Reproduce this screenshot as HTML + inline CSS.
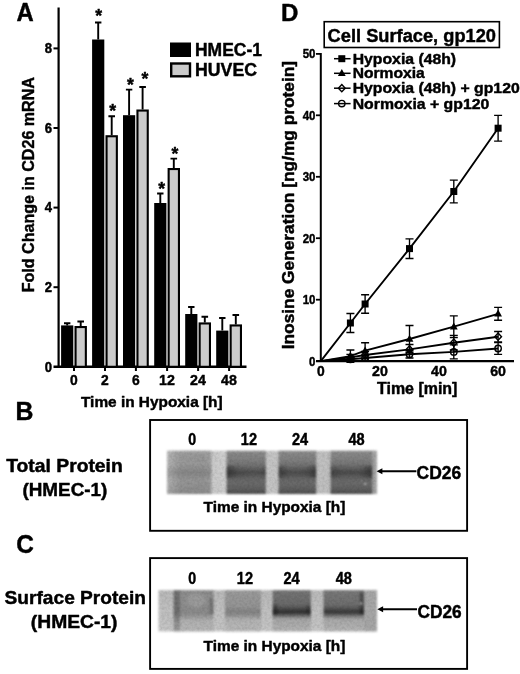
<!DOCTYPE html>
<html><head><meta charset="utf-8"><title>Figure</title>
<style>
html,body{margin:0;padding:0;background:#fff;}
body{width:520px;height:674px;overflow:hidden;font-family:"Liberation Sans",sans-serif;}
svg{display:block;}
svg text{font-family:"Liberation Sans",sans-serif;font-weight:bold;fill:#000;stroke:#000;stroke-width:0.45px;stroke-linejoin:round;}
</style></head>
<body>
<svg width="520" height="674" viewBox="0 0 520 674">
<rect width="520" height="674" fill="#fff"/>

<defs>
<filter id="soft" x="0" y="0" width="100%" height="100%" filterUnits="userSpaceOnUse"><feGaussianBlur stdDeviation="0.35"/></filter>
<filter id="grain" x="150" y="440" width="240" height="200" filterUnits="userSpaceOnUse" color-interpolation-filters="sRGB">
  <feGaussianBlur in="SourceGraphic" stdDeviation="1.0" result="b"/>
  <feTurbulence type="fractalNoise" baseFrequency="0.4" numOctaves="2" seed="7" result="n"/>
  <feColorMatrix in="n" type="matrix" values="0 0 0 0 0  0 0 0 0 0  0 0 0 0 0  0.18 0 0 0 -0.065" result="na"/>
  <feComposite in="na" in2="b" operator="in" result="nn"/>
  <feMerge><feMergeNode in="b"/><feMergeNode in="nn"/></feMerge>
</filter>
<linearGradient id="b_bg" x1="0" x2="1" y1="0" y2="0">
  <stop offset="0" stop-color="#bcbcbc"/><stop offset="0.21" stop-color="#cacaca"/><stop offset="0.28" stop-color="#cecece"/>
  <stop offset="0.5" stop-color="#c4c4c4"/><stop offset="0.75" stop-color="#c0c0c0"/><stop offset="1" stop-color="#b4b4b4"/>
</linearGradient>
<linearGradient id="b_l1" x1="0" x2="1" y1="0" y2="0">
  <stop offset="0" stop-color="#b8b8b8"/><stop offset="0.16" stop-color="#a6a6a6"/><stop offset="0.3" stop-color="#9a9a9a"/><stop offset="0.8" stop-color="#989898"/><stop offset="1" stop-color="#a0a0a0"/>
</linearGradient>
<linearGradient id="b_band_light" x1="0" x2="0" y1="0" y2="1">
  <stop offset="0" stop-color="#fff" stop-opacity="0.06"/><stop offset="0.3" stop-color="#000" stop-opacity="0"/>
  <stop offset="0.5" stop-color="#000" stop-opacity="0.13"/><stop offset="0.68" stop-color="#000" stop-opacity="0.02"/>
  <stop offset="1" stop-color="#000" stop-opacity="0.1"/>
</linearGradient>
<linearGradient id="b_lane" x1="0" x2="0" y1="0" y2="1">
  <stop offset="0" stop-color="#8c8c8c"/><stop offset="0.22" stop-color="#7e7e7e"/><stop offset="0.38" stop-color="#6c6c6c"/>
  <stop offset="0.5" stop-color="#4e4e4e"/><stop offset="0.62" stop-color="#646464"/><stop offset="0.76" stop-color="#6a6a6a"/>
  <stop offset="0.9" stop-color="#5e5e5e"/><stop offset="1" stop-color="#484848"/>
</linearGradient>
<linearGradient id="b_endsL" x1="0" x2="1" y1="0" y2="0">
  <stop offset="0" stop-color="#000" stop-opacity="0.7"/><stop offset="0.3" stop-color="#000" stop-opacity="0.15"/><stop offset="0.8" stop-color="#000" stop-opacity="0"/><stop offset="1" stop-color="#000" stop-opacity="0.25"/>
</linearGradient>
<linearGradient id="b_endsLR" x1="0" x2="1" y1="0" y2="0">
  <stop offset="0" stop-color="#000" stop-opacity="0.55"/><stop offset="0.3" stop-color="#000" stop-opacity="0.05"/><stop offset="0.7" stop-color="#000" stop-opacity="0.1"/><stop offset="1" stop-color="#000" stop-opacity="0.6"/>
</linearGradient>
<linearGradient id="b_endsR" x1="0" x2="1" y1="0" y2="0">
  <stop offset="0" stop-color="#000" stop-opacity="0.35"/><stop offset="0.3" stop-color="#000" stop-opacity="0.1"/><stop offset="0.7" stop-color="#000" stop-opacity="0.1"/><stop offset="1" stop-color="#000" stop-opacity="0.7"/>
</linearGradient>
<linearGradient id="c_bg" x1="0" x2="0" y1="0" y2="1">
  <stop offset="0" stop-color="#b8b8b8"/><stop offset="0.5" stop-color="#c0c0c0"/><stop offset="1" stop-color="#c4c4c4"/>
</linearGradient>
<linearGradient id="c_stripe" x1="0" x2="0" y1="0" y2="1">
  <stop offset="0" stop-color="#707070"/><stop offset="0.55" stop-color="#6c6c6c"/><stop offset="0.75" stop-color="#8c8c8c"/><stop offset="1" stop-color="#9c9c9c"/>
</linearGradient>
<linearGradient id="c_l1" x1="0" x2="0" y1="0" y2="1">
  <stop offset="0" stop-color="#8c8c8c"/><stop offset="0.3" stop-color="#8e8e8e"/><stop offset="0.5" stop-color="#8a8a8a"/><stop offset="0.58" stop-color="#8c8c8c"/><stop offset="0.74" stop-color="#b0b0b0"/><stop offset="1" stop-color="#b6b6b6"/>
</linearGradient>
<linearGradient id="c_l2" x1="0" x2="0" y1="0" y2="1">
  <stop offset="0" stop-color="#9a9a9a"/><stop offset="0.4" stop-color="#949494"/><stop offset="0.52" stop-color="#828282"/><stop offset="0.6" stop-color="#8e8e8e"/><stop offset="0.72" stop-color="#b2b2b2"/><stop offset="1" stop-color="#b8b8b8"/>
</linearGradient>
<linearGradient id="c_l3" x1="0" x2="0" y1="0" y2="1">
  <stop offset="0" stop-color="#747474"/><stop offset="0.36" stop-color="#696969"/><stop offset="0.46" stop-color="#4a4a4a"/><stop offset="0.53" stop-color="#2c2c2c"/><stop offset="0.6" stop-color="#5e5e5e"/><stop offset="0.7" stop-color="#a6a6a6"/><stop offset="1" stop-color="#b2b2b2"/>
</linearGradient>
<linearGradient id="c_l4" x1="0" x2="0" y1="0" y2="1">
  <stop offset="0" stop-color="#787878"/><stop offset="0.36" stop-color="#6e6e6e"/><stop offset="0.46" stop-color="#505050"/><stop offset="0.53" stop-color="#343434"/><stop offset="0.6" stop-color="#646464"/><stop offset="0.7" stop-color="#a8a8a8"/><stop offset="1" stop-color="#b4b4b4"/>
</linearGradient>
</defs>

<g filter="url(#soft)">
<text x="16.6" y="21.3" font-size="25.6" text-anchor="start" textLength="17.2" lengthAdjust="spacingAndGlyphs" stroke="none">A</text>
<line x1="58.6" y1="7.5" x2="58.6" y2="368.0" stroke="#000" stroke-width="2.2"/>
<line x1="53.5" y1="366.8" x2="246.5" y2="366.8" stroke="#000" stroke-width="2.4"/>
<line x1="53.5" y1="287.2" x2="58.6" y2="287.2" stroke="#000" stroke-width="2"/>
<text x="52" y="292.0" font-size="13.8" text-anchor="end" textLength="7.3" lengthAdjust="spacingAndGlyphs" >2</text>
<line x1="53.5" y1="207.6" x2="58.6" y2="207.6" stroke="#000" stroke-width="2"/>
<text x="52" y="212.4" font-size="13.8" text-anchor="end" textLength="7.3" lengthAdjust="spacingAndGlyphs" >4</text>
<line x1="53.5" y1="128.0" x2="58.6" y2="128.0" stroke="#000" stroke-width="2"/>
<text x="52" y="132.8" font-size="13.8" text-anchor="end" textLength="7.3" lengthAdjust="spacingAndGlyphs" >6</text>
<line x1="53.5" y1="48.4" x2="58.6" y2="48.4" stroke="#000" stroke-width="2"/>
<text x="52" y="53.2" font-size="13.8" text-anchor="end" textLength="7.3" lengthAdjust="spacingAndGlyphs" >8</text>
<text x="52" y="371.7" font-size="13.8" text-anchor="end" textLength="7.3" lengthAdjust="spacingAndGlyphs" >0</text>
<text transform="translate(33.8,292.3) rotate(-90)" font-size="16.7" textLength="215.2" lengthAdjust="spacingAndGlyphs">Fold Change in CD26 mRNA</text>
<line x1="74.0" y1="366.8" x2="74.0" y2="371" stroke="#000" stroke-width="2"/>
<text x="73.9" y="384.6" font-size="15" text-anchor="middle" textLength="7.7" lengthAdjust="spacingAndGlyphs" >0</text>
<rect x="61.1" y="325.4" width="12.2" height="41.4" fill="#000"/>
<path d="M67.2 325.4 V323.3 M64.0 323.3 H70.4" stroke="#000" stroke-width="1.9" fill="none"/>
<rect x="75.55" y="327.05" width="10.30" height="39.75" fill="#cbcbcb" stroke="#000" stroke-width="2.1"/>
<path d="M80.7 326.0 V321.5 M77.4 321.5 H84.0" stroke="#000" stroke-width="1.9" fill="none"/>
<line x1="105.0" y1="366.8" x2="105.0" y2="371" stroke="#000" stroke-width="2"/>
<text x="104.9" y="384.6" font-size="15" text-anchor="middle" textLength="7.7" lengthAdjust="spacingAndGlyphs" >2</text>
<rect x="92.1" y="39.5" width="12.2" height="327.3" fill="#000"/>
<path d="M98.2 39.5 V22.5 M95.0 22.5 H101.4" stroke="#000" stroke-width="1.9" fill="none"/>
<rect x="106.55" y="136.25" width="10.30" height="230.55" fill="#cbcbcb" stroke="#000" stroke-width="2.1"/>
<path d="M111.7 135.2 V116.2 M108.4 116.2 H115.0" stroke="#000" stroke-width="1.9" fill="none"/>
<line x1="135.9" y1="366.8" x2="135.9" y2="371" stroke="#000" stroke-width="2"/>
<text x="135.79999999999998" y="384.6" font-size="15" text-anchor="middle" textLength="7.7" lengthAdjust="spacingAndGlyphs" >6</text>
<rect x="123.0" y="115.2" width="12.2" height="251.6" fill="#000"/>
<path d="M129.1 115.2 V89.6 M125.9 89.6 H132.3" stroke="#000" stroke-width="1.9" fill="none"/>
<rect x="137.45" y="110.55" width="10.30" height="256.25" fill="#cbcbcb" stroke="#000" stroke-width="2.1"/>
<path d="M142.6 109.5 V87.0 M139.3 87.0 H145.9" stroke="#000" stroke-width="1.9" fill="none"/>
<line x1="167.10000000000002" y1="366.8" x2="167.10000000000002" y2="371" stroke="#000" stroke-width="2"/>
<text x="167.0" y="384.6" font-size="15" text-anchor="middle" textLength="15.8" lengthAdjust="spacingAndGlyphs" >12</text>
<rect x="154.2" y="203.0" width="12.2" height="163.8" fill="#000"/>
<path d="M160.3 203.0 V193.5 M157.1 193.5 H163.5" stroke="#000" stroke-width="1.9" fill="none"/>
<rect x="168.65" y="169.05" width="10.30" height="197.75" fill="#cbcbcb" stroke="#000" stroke-width="2.1"/>
<path d="M173.8 168.0 V158.6 M170.5 158.6 H177.1" stroke="#000" stroke-width="1.9" fill="none"/>
<line x1="198.10000000000002" y1="366.8" x2="198.10000000000002" y2="371" stroke="#000" stroke-width="2"/>
<text x="198.0" y="384.6" font-size="15" text-anchor="middle" textLength="15.8" lengthAdjust="spacingAndGlyphs" >24</text>
<rect x="185.2" y="314.0" width="12.2" height="52.8" fill="#000"/>
<path d="M191.3 314.0 V307.0 M188.1 307.0 H194.5" stroke="#000" stroke-width="1.9" fill="none"/>
<rect x="199.65" y="323.45" width="10.30" height="43.35" fill="#cbcbcb" stroke="#000" stroke-width="2.1"/>
<path d="M204.8 322.4 V316.7 M201.5 316.7 H208.1" stroke="#000" stroke-width="1.9" fill="none"/>
<line x1="229.10000000000002" y1="366.8" x2="229.10000000000002" y2="371" stroke="#000" stroke-width="2"/>
<text x="229.0" y="384.6" font-size="15" text-anchor="middle" textLength="15.8" lengthAdjust="spacingAndGlyphs" >48</text>
<rect x="216.2" y="330.6" width="12.2" height="36.2" fill="#000"/>
<path d="M222.3 330.6 V318.0 M219.1 318.0 H225.5" stroke="#000" stroke-width="1.9" fill="none"/>
<rect x="230.65" y="325.45" width="10.30" height="41.35" fill="#cbcbcb" stroke="#000" stroke-width="2.1"/>
<path d="M235.8 324.4 V315.0 M232.5 315.0 H239.1" stroke="#000" stroke-width="1.9" fill="none"/>
<text x="98.6" y="22.3" font-size="17.6" text-anchor="middle" >*</text>
<text x="112.8" y="116.7" font-size="17.6" text-anchor="middle" >*</text>
<text x="130.5" y="90.8" font-size="17.6" text-anchor="middle" >*</text>
<text x="145" y="84.8" font-size="17.6" text-anchor="middle" >*</text>
<text x="161.8" y="195.4" font-size="17.6" text-anchor="middle" >*</text>
<text x="174.9" y="159.5" font-size="17.6" text-anchor="middle" >*</text>
<text x="81" y="406.5" font-size="15.3" text-anchor="start" textLength="141.6" lengthAdjust="spacingAndGlyphs" >Time in Hypoxia [h]</text>
<rect x="170" y="42.5" width="21" height="14.5" fill="#000"/>
<rect x="171.2" y="63.5" width="18.8" height="12.8" fill="#cbcbcb" stroke="#000" stroke-width="2.4"/>
<text x="195" y="56.4" font-size="18.2" text-anchor="start" textLength="67" lengthAdjust="spacingAndGlyphs" >HMEC-1</text>
<text x="195" y="76.4" font-size="18.2" text-anchor="start" textLength="62" lengthAdjust="spacingAndGlyphs" >HUVEC</text>
<text x="281.1" y="21.0" font-size="24.8" text-anchor="start" textLength="17.4" lengthAdjust="spacingAndGlyphs" stroke="none">D</text>
<rect x="324.2" y="21.7" width="175.2" height="25.8" fill="#fff" stroke="#000" stroke-width="1.6"/>
<text x="327.6" y="41.6" font-size="18.9" text-anchor="start" textLength="168.4" lengthAdjust="spacingAndGlyphs" >Cell Surface, gp120</text>
<line x1="320.8" y1="53" x2="320.8" y2="362.1" stroke="#000" stroke-width="2"/>
<line x1="316" y1="361.1" x2="514" y2="361.1" stroke="#000" stroke-width="2.2"/>
<line x1="316" y1="299.7" x2="320.8" y2="299.7" stroke="#000" stroke-width="1.8"/>
<text x="315.5" y="304.2" font-size="12.7" text-anchor="end" textLength="12.8" lengthAdjust="spacingAndGlyphs" >10</text>
<line x1="316" y1="238.2" x2="320.8" y2="238.2" stroke="#000" stroke-width="1.8"/>
<text x="315.5" y="242.7" font-size="12.7" text-anchor="end" textLength="12.8" lengthAdjust="spacingAndGlyphs" >20</text>
<line x1="316" y1="176.8" x2="320.8" y2="176.8" stroke="#000" stroke-width="1.8"/>
<text x="315.5" y="181.3" font-size="12.7" text-anchor="end" textLength="12.8" lengthAdjust="spacingAndGlyphs" >30</text>
<line x1="316" y1="115.3" x2="320.8" y2="115.3" stroke="#000" stroke-width="1.8"/>
<text x="315.5" y="119.8" font-size="12.7" text-anchor="end" textLength="12.8" lengthAdjust="spacingAndGlyphs" >40</text>
<line x1="316" y1="53.9" x2="320.8" y2="53.9" stroke="#000" stroke-width="1.8"/>
<text x="315.5" y="58.4" font-size="12.7" text-anchor="end" textLength="12.8" lengthAdjust="spacingAndGlyphs" >50</text>
<text x="315.5" y="365.6" font-size="12.7" text-anchor="end" textLength="6.4" lengthAdjust="spacingAndGlyphs" >0</text>
<text x="320.8" y="375.6" font-size="14.8" text-anchor="middle" textLength="7.7" lengthAdjust="spacingAndGlyphs" >0</text>
<text x="379.9" y="375.6" font-size="14.8" text-anchor="middle" textLength="15.8" lengthAdjust="spacingAndGlyphs" >20</text>
<text x="439.0" y="375.6" font-size="14.8" text-anchor="middle" textLength="15.8" lengthAdjust="spacingAndGlyphs" >40</text>
<text x="498.1" y="375.6" font-size="14.8" text-anchor="middle" textLength="15.8" lengthAdjust="spacingAndGlyphs" >60</text>
<text x="377" y="394.3" font-size="15.7" text-anchor="start" textLength="80.4" lengthAdjust="spacingAndGlyphs" >Time [min]</text>
<text transform="translate(294.2,349.3) rotate(-90)" font-size="15.7" textLength="288.4" lengthAdjust="spacingAndGlyphs">Inosine Generation [ng/mg protein]</text>
<polyline points="320.8,361.1 350.4,359.3 365.1,358.0 409.5,354.3 453.8,351.9 498.1,348.5" fill="none" stroke="#000" stroke-width="1.9"/>
<path d="M350.4 357.4 V361.1 M346.4 357.4 H354.4 M346.4 361.1 H354.4" stroke="#000" stroke-width="1.35" fill="none"/>
<circle cx="350.4" cy="359.3" r="3.2" fill="none" stroke="#000" stroke-width="1.4"/>
<path d="M365.1 355.6 V360.5 M361.1 355.6 H369.1 M361.1 360.5 H369.1" stroke="#000" stroke-width="1.35" fill="none"/>
<circle cx="365.1" cy="358.0" r="3.2" fill="none" stroke="#000" stroke-width="1.4"/>
<path d="M409.5 350.7 V358.0 M405.5 350.7 H413.5 M405.5 358.0 H413.5" stroke="#000" stroke-width="1.35" fill="none"/>
<circle cx="409.5" cy="354.3" r="3.2" fill="none" stroke="#000" stroke-width="1.4"/>
<path d="M453.8 344.8 V358.9 M449.8 344.8 H457.8 M449.8 358.9 H457.8" stroke="#000" stroke-width="1.35" fill="none"/>
<circle cx="453.8" cy="351.9" r="3.2" fill="none" stroke="#000" stroke-width="1.4"/>
<path d="M498.1 342.6 V354.4 M494.1 342.6 H502.1 M494.1 354.4 H502.1" stroke="#000" stroke-width="1.35" fill="none"/>
<circle cx="498.1" cy="348.5" r="3.2" fill="none" stroke="#000" stroke-width="1.4"/>
<polyline points="320.8,361.1 350.4,357.4 365.1,355.0 409.5,349.4 453.8,342.7 498.1,336.7" fill="none" stroke="#000" stroke-width="1.9"/>
<path d="M350.4 354.3 V360.5 M346.4 354.3 H354.4 M346.4 360.5 H354.4" stroke="#000" stroke-width="1.35" fill="none"/>
<path d="M350.4 353.8 L353.8 357.4 L350.4 360.9 L347.0 357.4 Z" fill="none" stroke="#000" stroke-width="1.4"/>
<path d="M365.1 351.3 V358.6 M361.1 351.3 H369.1 M361.1 358.6 H369.1" stroke="#000" stroke-width="1.35" fill="none"/>
<path d="M365.1 351.4 L368.5 355.0 L365.1 358.5 L361.7 355.0 Z" fill="none" stroke="#000" stroke-width="1.4"/>
<path d="M409.5 344.5 V354.3 M405.5 344.5 H413.5 M405.5 354.3 H413.5" stroke="#000" stroke-width="1.35" fill="none"/>
<path d="M409.5 345.8 L412.9 349.4 L409.5 352.9 L406.1 349.4 Z" fill="none" stroke="#000" stroke-width="1.4"/>
<path d="M453.8 335.3 V350.0 M449.8 335.3 H457.8 M449.8 350.0 H457.8" stroke="#000" stroke-width="1.35" fill="none"/>
<path d="M453.8 339.1 L457.2 342.7 L453.8 346.2 L450.4 342.7 Z" fill="none" stroke="#000" stroke-width="1.4"/>
<path d="M498.1 331.5 V341.9 M494.1 331.5 H502.1 M494.1 341.9 H502.1" stroke="#000" stroke-width="1.35" fill="none"/>
<path d="M498.1 333.1 L501.5 336.7 L498.1 340.2 L494.7 336.7 Z" fill="none" stroke="#000" stroke-width="1.4"/>
<polyline points="320.8,361.1 350.4,356.2 365.1,350.7 409.5,339.0 453.8,326.7 498.1,313.8" fill="none" stroke="#000" stroke-width="1.9"/>
<path d="M350.4 350.0 V362.3 M346.4 350.0 H354.4 M346.4 362.3 H354.4" stroke="#000" stroke-width="1.35" fill="none"/>
<path d="M350.4 352.0 L354.2 359.0 H346.5 Z" fill="#000"/>
<path d="M365.1 342.7 V358.6 M361.1 342.7 H369.1 M361.1 358.6 H369.1" stroke="#000" stroke-width="1.35" fill="none"/>
<path d="M365.1 346.5 L369.0 353.5 H361.2 Z" fill="#000"/>
<path d="M409.5 325.5 V352.5 M405.5 325.5 H413.5 M405.5 352.5 H413.5" stroke="#000" stroke-width="1.35" fill="none"/>
<path d="M409.5 334.8 L413.4 341.8 H405.6 Z" fill="#000"/>
<path d="M453.8 315.9 V337.5 M449.8 315.9 H457.8 M449.8 337.5 H457.8" stroke="#000" stroke-width="1.35" fill="none"/>
<path d="M453.8 322.5 L457.7 329.5 H449.9 Z" fill="#000"/>
<path d="M498.1 307.3 V320.2 M494.1 307.3 H502.1 M494.1 320.2 H502.1" stroke="#000" stroke-width="1.35" fill="none"/>
<path d="M498.1 309.6 L502.0 316.6 H494.2 Z" fill="#000"/>
<polyline points="320.8,361.1 350.4,323.0 365.1,304.0 409.5,248.6 453.8,191.5 498.1,128.2" fill="none" stroke="#000" stroke-width="1.9"/>
<path d="M350.4 313.5 V332.5 M346.4 313.5 H354.4 M346.4 332.5 H354.4" stroke="#000" stroke-width="1.35" fill="none"/>
<rect x="346.9" y="319.5" width="7" height="7" fill="#000"/>
<path d="M365.1 294.7 V313.2 M361.1 294.7 H369.1 M361.1 313.2 H369.1" stroke="#000" stroke-width="1.35" fill="none"/>
<rect x="361.6" y="300.5" width="7" height="7" fill="#000"/>
<path d="M409.5 238.8 V258.5 M405.5 238.8 H413.5 M405.5 258.5 H413.5" stroke="#000" stroke-width="1.35" fill="none"/>
<rect x="406.0" y="245.1" width="7" height="7" fill="#000"/>
<path d="M453.8 180.1 V202.9 M449.8 180.1 H457.8 M449.8 202.9 H457.8" stroke="#000" stroke-width="1.35" fill="none"/>
<rect x="450.3" y="188.0" width="7" height="7" fill="#000"/>
<path d="M498.1 115.3 V141.1 M494.1 115.3 H502.1 M494.1 141.1 H502.1" stroke="#000" stroke-width="1.35" fill="none"/>
<rect x="494.6" y="124.7" width="7" height="7" fill="#000"/>
<line x1="334" y1="58.7" x2="350.6" y2="58.7" stroke="#000" stroke-width="1.5"/>
<rect x="338.3" y="55.2" width="7" height="7" fill="#000"/>
<text x="352.7" y="63.7" font-size="14.7" text-anchor="start" textLength="103.4" lengthAdjust="spacingAndGlyphs" >Hypoxia (48h)</text>
<line x1="334" y1="73.3" x2="350.6" y2="73.3" stroke="#000" stroke-width="1.5"/>
<path d="M341.8 69.1 L345.7 76.1 H337.9 Z" fill="#000"/>
<text x="352.7" y="78.3" font-size="14.7" text-anchor="start" textLength="72" lengthAdjust="spacingAndGlyphs" >Normoxia</text>
<line x1="334" y1="88.2" x2="350.6" y2="88.2" stroke="#000" stroke-width="1.5"/>
<path d="M341.8 84.6 L345.2 88.2 L341.8 91.7 L338.4 88.2 Z" fill="none" stroke="#000" stroke-width="1.4"/>
<text x="352.7" y="93.2" font-size="14.7" text-anchor="start" textLength="167" lengthAdjust="spacingAndGlyphs" >Hypoxia (48h) + gp120</text>
<line x1="334" y1="103.6" x2="350.6" y2="103.6" stroke="#000" stroke-width="1.5"/>
<circle cx="341.8" cy="103.6" r="3.2" fill="none" stroke="#000" stroke-width="1.4"/>
<text x="352.7" y="108.6" font-size="14.7" text-anchor="start" textLength="136.6" lengthAdjust="spacingAndGlyphs" >Normoxia + gp120</text>
<text x="15.5" y="419.9" font-size="25.6" text-anchor="start" textLength="17.9" lengthAdjust="spacingAndGlyphs" stroke="none">B</text>
<text x="6.2" y="472.4" font-size="18.2" text-anchor="start" textLength="116.6" lengthAdjust="spacingAndGlyphs" >Total Protein</text>
<text x="22.4" y="496.3" font-size="18.2" text-anchor="start" textLength="85" lengthAdjust="spacingAndGlyphs" >(HMEC-1)</text>
<rect x="150.1" y="420.0" width="317" height="110.8" fill="#fff" stroke="#000" stroke-width="1.9"/>
<text x="192.2" y="445.1" font-size="15.6" text-anchor="middle" textLength="7.9" lengthAdjust="spacingAndGlyphs" >0</text>
<text x="248.9" y="445.1" font-size="15.6" text-anchor="middle" textLength="16.2" lengthAdjust="spacingAndGlyphs" >12</text>
<text x="300" y="445.1" font-size="15.6" text-anchor="middle" textLength="16.2" lengthAdjust="spacingAndGlyphs" >24</text>
<text x="356.6" y="445.1" font-size="15.6" text-anchor="middle" textLength="16.2" lengthAdjust="spacingAndGlyphs" >48</text>
<text x="203.6" y="512" font-size="15.5" text-anchor="start" textLength="141.8" lengthAdjust="spacingAndGlyphs" >Time in Hypoxia [h]</text>
<g filter="url(#grain)">
<rect x="167" y="450.8" width="209.8" height="43.2" fill="url(#b_bg)"/>
<rect x="167" y="450.8" width="44.5" height="43.2" fill="url(#b_l1)"/>
<rect x="167" y="450.8" width="44.5" height="43.2" fill="url(#b_band_light)"/>
<rect x="226.6" y="450.8" width="39.2" height="43.2" fill="url(#b_lane)"/>
<rect x="226.6" y="465.8" width="39.2" height="12" fill="url(#b_endsL)" opacity="0.5"/>
<rect x="278.6" y="450.8" width="37.6" height="43.2" fill="url(#b_lane)"/>
<rect x="278.6" y="465.8" width="37.6" height="12" fill="url(#b_endsLR)" opacity="0.5"/>
<rect x="330.6" y="450.8" width="41.9" height="43.2" fill="url(#b_lane)"/>
<rect x="330.6" y="465.8" width="41.9" height="12" fill="url(#b_endsR)" opacity="0.5"/>
<rect x="372.5" y="450.8" width="4.3" height="43.2" fill="#a2a2a2"/>
<circle cx="365.2" cy="484.2" r="0.9" fill="#e8e8e8"/><circle cx="361.5" cy="481" r="0.6" fill="#c8c8c8"/>
</g>
<path d="M416.4 471.2 H380" stroke="#000" stroke-width="2" fill="none"/>
<path d="M376.6 471.2 L382.4 468.2 V474.2 Z" fill="#000"/>
<text x="416.6" y="479.4" font-size="18.2" text-anchor="start" textLength="44.6" lengthAdjust="spacingAndGlyphs" >CD26</text>
<text x="16.2" y="552.9" font-size="25.6" text-anchor="start" textLength="17.6" lengthAdjust="spacingAndGlyphs" stroke="none">C</text>
<text x="4.6" y="604.1" font-size="18.4" text-anchor="start" textLength="141.4" lengthAdjust="spacingAndGlyphs" >Surface Protein</text>
<text x="30.8" y="627.9" font-size="18.4" text-anchor="start" textLength="86.7" lengthAdjust="spacingAndGlyphs" >(HMEC-1)</text>
<rect x="150.1" y="558.1" width="317" height="110.8" fill="#fff" stroke="#000" stroke-width="1.9"/>
<text x="192.2" y="584.2" font-size="15.6" text-anchor="middle" textLength="7.9" lengthAdjust="spacingAndGlyphs" >0</text>
<text x="244.9" y="584.2" font-size="15.6" text-anchor="middle" textLength="16.2" lengthAdjust="spacingAndGlyphs" >12</text>
<text x="291.6" y="584.2" font-size="15.6" text-anchor="middle" textLength="16.2" lengthAdjust="spacingAndGlyphs" >24</text>
<text x="343.8" y="584.2" font-size="15.6" text-anchor="middle" textLength="16.2" lengthAdjust="spacingAndGlyphs" >48</text>
<text x="203.6" y="651" font-size="15.5" text-anchor="start" textLength="141.8" lengthAdjust="spacingAndGlyphs" >Time in Hypoxia [h]</text>
<g filter="url(#grain)">
<rect x="158.5" y="590.2" width="218.5" height="41.2" fill="url(#c_bg)"/>
<rect x="173.6" y="590.2" width="7" height="41.2" fill="url(#c_stripe)"/>
<rect x="180" y="590.2" width="33.5" height="41.2" fill="url(#c_l1)"/>
<rect x="225" y="590.2" width="36.0" height="41.2" fill="url(#c_l2)"/>
<rect x="272.7" y="590.2" width="38.1" height="41.2" fill="url(#c_l3)"/>
<rect x="323.5" y="590.2" width="40.5" height="41.2" fill="url(#c_l4)"/>
<ellipse cx="196" cy="600.2" rx="9" ry="7" fill="#fff" opacity="0.12"/>
<rect x="364" y="590.2" width="13" height="41.2" fill="#a6a6a6"/>
<rect x="209.5" y="598.2" width="4" height="16" fill="#000" opacity="0.18"/>
<rect x="272.7" y="604.2" width="5" height="11" fill="#000" opacity="0.25"/>
<rect x="306" y="605.2" width="4.8" height="9" fill="#000" opacity="0.2"/>
<rect x="359.5" y="592.2" width="4.5" height="22" fill="#000" opacity="0.3"/>
<circle cx="361" cy="603.5" r="1.1" fill="#d0d0d0"/>
</g>
<path d="M417 609.2 H381" stroke="#000" stroke-width="2" fill="none"/>
<path d="M377.3 609.2 L383.1 606.2 V612.2 Z" fill="#000"/>
<text x="417.5" y="618.3" font-size="18.2" text-anchor="start" textLength="44.2" lengthAdjust="spacingAndGlyphs" >CD26</text>
</g>
</svg>
</body></html>
